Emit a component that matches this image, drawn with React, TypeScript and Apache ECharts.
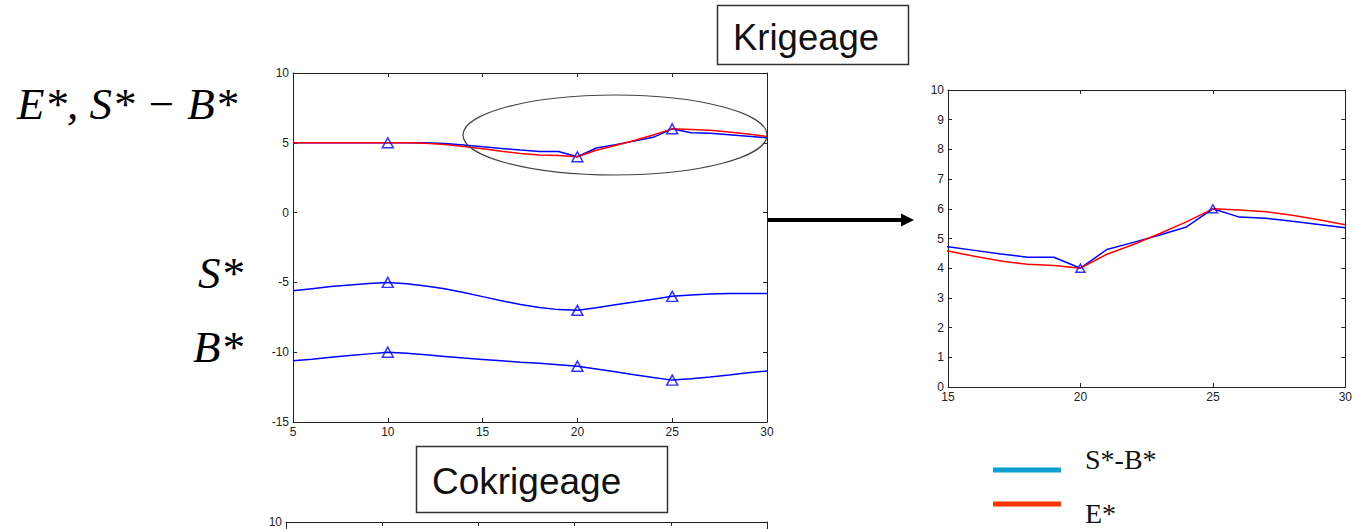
import React, { useEffect, useRef } from "react";
import * as echarts from "echarts";

// Sample positions along the profile
const xValues = [5, 6, 7, 8, 9, 10, 11, 12, 13, 14, 15, 16, 17, 18, 19, 20, 21, 22, 23, 24, 25, 26, 27, 28, 29, 30];

// Kriged estimate E*
const eStar = [5.0, 5.0, 5.0, 5.0, 5.0, 5.0, 5.0, 4.97, 4.88, 4.74, 4.58, 4.4, 4.24, 4.13, 4.09, 4.0, 4.47, 4.8, 5.17, 5.56, 6.0, 5.96, 5.9, 5.78, 5.63, 5.46];
// Difference of the two kriged surfaces S* - B*
const sMinusB = [5.0, 5.0, 5.0, 5.0, 5.0, 5.0, 5.0, 5.0, 4.95, 4.85, 4.72, 4.6, 4.48, 4.37, 4.37, 4.0, 4.63, 4.87, 5.12, 5.39, 6.0, 5.72, 5.68, 5.58, 5.47, 5.36];
// Kriged S* and B*
const sStar = [-5.6, -5.45, -5.3, -5.18, -5.08, -5.0, -5.1, -5.25, -5.45, -5.72, -6.02, -6.32, -6.58, -6.8, -6.95, -7.0, -6.82, -6.6, -6.4, -6.2, -6.0, -5.9, -5.83, -5.8, -5.8, -5.8];
const bStar = [-10.62, -10.5, -10.37, -10.24, -10.12, -10.0, -10.08, -10.18, -10.3, -10.42, -10.52, -10.62, -10.72, -10.8, -10.9, -11.0, -11.2, -11.4, -11.62, -11.82, -12.0, -11.9, -11.77, -11.63, -11.48, -11.34];

// Observation positions (triangles)
const markerXs = [10, 20, 25];

// Only the top of the cokriging panel is in view
const cokrigeYLabels = [10];

const BLUE = "#0000ff";
const RED = "#ff0000";
const AXIS = "#222";
const LABEL_FONT = '"Liberation Sans", Arial, sans-serif';

const pairs = (ys: number[]) => xValues.map((x, i) => [x, ys[i]]);
const marks = (ys: number[]) => markerXs.map((x) => [x, ys[xValues.indexOf(x)]]);

function frameAxes(grid: number, min: number, max: number, interval: number, showLabel: boolean, isX: boolean, labelValues?: number[]) {
  const common = {
    gridIndex: grid,
    type: "value" as const,
    min,
    max,
    interval,
    splitLine: { show: false },
    axisLine: { show: true, onZero: false, lineStyle: { color: AXIS, width: 1 } },
    axisTick: { show: true, inside: true, length: 4, lineStyle: { color: AXIS } },
  };
  const main = {
    ...common,
    position: isX ? "bottom" : "left",
    axisLabel: {
      show: showLabel,
      fontSize: 12,
      lineHeight: 12,
      color: AXIS,
      fontFamily: LABEL_FONT,
      margin: 4,
      ...(labelValues ? { customValues: labelValues } : {}),
    },
  };
  const mirror = {
    ...common,
    position: isX ? "top" : "right",
    axisLabel: { show: false },
  };
  return [main, mirror];
}

function lineSeries(name: string, ys: number[], color: string, axis: number) {
  return {
    name,
    type: "line",
    xAxisIndex: axis,
    yAxisIndex: axis,
    data: pairs(ys),
    symbol: "none",
    lineStyle: { color, width: 1.5 },
    clip: true,
  };
}

function markerSeries(ys: number[], axis: number, size: number[]) {
  return {
    type: "scatter",
    xAxisIndex: axis,
    yAxisIndex: axis,
    data: marks(ys),
    symbol: "triangle",
    symbolSize: size,
    itemStyle: { color: "rgba(0,0,0,0)", borderColor: BLUE, borderWidth: 1.5 },
    clip: true,
    z: 5,
  };
}

export default function App() {
  const ref = useRef<HTMLDivElement>(null);

  useEffect(() => {
    if (!ref.current) return;
    const chart = echarts.init(ref.current, undefined, { renderer: "svg" });

    const [lx, lxTop] = frameAxes(0, 5, 30, 5, true, true);
    const [ly, lyRight] = frameAxes(0, -15, 10, 5, true, false);
    const [rx, rxTop] = frameAxes(1, 15, 30, 5, true, true);
    const [ry, ryRight] = frameAxes(1, 0, 10, 1, true, false);
    const [bx, bxTop] = frameAxes(2, 5, 30, 5, false, true);
    const [by, byRight] = frameAxes(2, -15, 10, 5, true, false, cokrigeYLabels);

    chart.setOption({
      animation: false,
      backgroundColor: "#ffffff",
      grid: [
        { left: 293, top: 73, width: 474, height: 349 },
        { left: 948, top: 90, width: 404, height: 297 },
        { left: 286, top: 522, width: 481, height: 350 },
      ],
      // order: [main, mirror] per grid -> indices 0..5
      xAxis: [lx, lxTop, rx, rxTop, bx, bxTop],
      yAxis: [ly, lyRight, ry, ryRight, by, byRight],
      series: [
        // Krigeage overview
        lineSeries("S*-B*", sMinusB, BLUE, 0),
        lineSeries("E*", eStar, RED, 0),
        lineSeries("S*", sStar, BLUE, 0),
        lineSeries("B*", bStar, BLUE, 0),
        markerSeries(sMinusB, 0, [11, 10]),
        markerSeries(sStar, 0, [11, 10]),
        markerSeries(bStar, 0, [11, 10]),
        // Zoomed view 15-30
        lineSeries("S*-B*", sMinusB, BLUE, 2),
        lineSeries("E*", eStar, RED, 2),
        markerSeries(sMinusB, 2, [9, 8]),
      ],
      graphic: [
        {
          type: "ellipse",
          shape: { cx: 615, cy: 135, rx: 152, ry: 40 },
          style: { fill: "none", stroke: "#444", lineWidth: 1.2 },
          z: 10,
        },
        {
          type: "line",
          shape: { x1: 768, y1: 220, x2: 903, y2: 220 },
          style: { stroke: "#000", lineWidth: 4 },
        },
        {
          type: "polygon",
          shape: { points: [[901, 213.5], [914, 220], [901, 226.5]] },
          style: { fill: "#000" },
        },
        {
          type: "rect",
          shape: { x: 717.5, y: 5.5, width: 191, height: 59 },
          style: { fill: "#fff", stroke: "#333", lineWidth: 1.5 },
        },
        {
          type: "text",
          style: {
            text: "Krigeage",
            x: 733,
            y: 37,
            verticalAlign: "middle",
            font: `36.5px ${LABEL_FONT}`,
            fill: "#111",
          },
        },
        {
          type: "rect",
          shape: { x: 416.5, y: 446.5, width: 251, height: 66 },
          style: { fill: "#fff", stroke: "#333", lineWidth: 1.5 },
        },
        {
          type: "text",
          style: {
            text: "Cokrigeage",
            x: 432,
            y: 481,
            verticalAlign: "middle",
            font: `37px ${LABEL_FONT}`,
            fill: "#111",
          },
        },
        {
          type: "text",
          style: {
            text: "E*, S* − B*",
            x: 17,
            y: 104,
            verticalAlign: "middle",
            font: 'italic 45px "Liberation Serif", "Times New Roman", serif',
            fill: "#000",
          },
        },
        {
          type: "text",
          style: {
            text: "S*",
            x: 243,
            y: 273,
            align: "right",
            verticalAlign: "middle",
            font: 'italic 45px "Liberation Serif", "Times New Roman", serif',
            fill: "#000",
          },
        },
        {
          type: "text",
          style: {
            text: "B*",
            x: 243,
            y: 347,
            align: "right",
            verticalAlign: "middle",
            font: 'italic 45px "Liberation Serif", "Times New Roman", serif',
            fill: "#000",
          },
        },
        // Legend for the zoomed view
        {
          type: "line",
          shape: { x1: 993, y1: 470, x2: 1061, y2: 470 },
          style: { stroke: "#0a9fd0", lineWidth: 5 },
        },
        {
          type: "line",
          shape: { x1: 993, y1: 504, x2: 1061, y2: 504 },
          style: { stroke: "#ff3300", lineWidth: 5 },
        },
        {
          type: "text",
          style: {
            text: "S*-B*",
            x: 1085,
            y: 459,
            verticalAlign: "middle",
            font: '28px "Liberation Serif", "Times New Roman", serif',
            fill: "#111",
          },
        },
        {
          type: "text",
          style: {
            text: "E*",
            x: 1085,
            y: 513,
            verticalAlign: "middle",
            font: '28px "Liberation Serif", "Times New Roman", serif',
            fill: "#111",
          },
        },
      ],
    });

    return () => chart.dispose();
  }, []);

  return (
    <div
      ref={ref}
      style={{ position: "absolute", left: 0, top: 0, width: 1355, height: 529 }}
    />
  );
}
